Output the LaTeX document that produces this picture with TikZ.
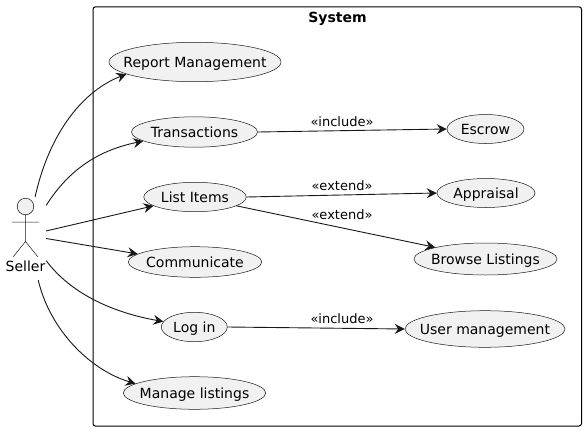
\documentclass[tikz,border=0pt]{standalone}
\usepackage{fontspec}
\setmainfont{DejaVu Sans}
\usetikzlibrary{arrows.meta,shapes.geometric}
\definecolor{ucfill}{HTML}{F1F1F1}
\definecolor{ucline}{HTML}{181818}
\newcommand{\uctext}[1]{\makebox[0pt]{\raisebox{0pt}[10.6pt][0pt]{#1}}}
\tikzset{
  usecase/.style={ellipse,draw=ucline,line width=0.5pt,fill=ucfill,inner sep=0pt,font=\fontsize{14}{16}\selectfont,text=black},
  link/.style={draw=ucline,line width=0.9pt,-{Stealth[length=10pt,width=10pt,inset=3.5pt]}},
  linklabel/.style={font=\fontsize{13}{15}\selectfont,text=black,inner sep=0pt},
  actorline/.style={draw=ucline,line width=0.5pt}
}
\begin{document}
\begin{tikzpicture}[x=1pt,y=-1pt]
\useasboundingbox (0,0) rectangle (586,431);
\fill[white] (0,0) rectangle (586,431);
\node[draw=black,line width=1pt,rounded corners=2.5pt,minimum width=488.5pt,minimum height=419.2pt,inner sep=0pt] (sys) at (337.25,216.4) {};
\node[font=\bfseries\fontsize{14}{16}\selectfont,inner sep=0pt,anchor=base] (systitle) at (337.5,22) {System};
% actor
\node[inner sep=0pt,minimum width=41pt,minimum height=83pt] (actor) at (25.5,238.5) {};
\draw[actorline,fill=ucfill] (25.5,206.5) circle (8.3pt);
\draw[actorline] (25.5,215) -- (25.5,241.5) (12,222) -- (39,222) (13,257) -- (25.5,241.5) -- (38,257);
\node[font=\fontsize{14}{16}\selectfont,inner sep=0pt] (seller) at (25.5,266) {Seller};
% use cases
\node[usecase,minimum width=172pt,minimum height=39.4pt] (rm) at (195,62) {\uctext{Report Management}};
\node[usecase,minimum width=126pt,minimum height=30.4pt] (tr) at (194.5,132) {\uctext{Transactions}};
\node[usecase,minimum width=102.5pt,minimum height=29.4pt] (li) at (195,197) {\uctext{List Items}};
\node[usecase,minimum width=133.4pt,minimum height=30.6pt] (co) at (195,262) {\uctext{Communicate}};
\node[usecase,minimum width=66pt,minimum height=29.4pt] (lo) at (194.3,327) {\uctext{Log in}};
\node[usecase,minimum width=142.4pt,minimum height=32.6pt] (ml) at (194.5,393) {\uctext{Manage listings}};
\node[usecase,minimum width=77pt,minimum height=29pt] (es) at (485.5,129) {\uctext{Escrow}};
\node[usecase,minimum width=98pt,minimum height=29pt] (ap) at (486,193) {\uctext{Appraisal}};
\node[usecase,minimum width=143pt,minimum height=32pt] (br) at (485.5,259) {\uctext{Browse Listings}};
\node[usecase,minimum width=160pt,minimum height=36.6pt] (um) at (485,329) {\uctext{User management}};
% links from actor
\draw[link] (actor.77) .. controls (50,130) and (85,90) .. (rm.190);
\draw[link] (actor.58) .. controls (70,168) and (100,150) .. (tr.190);
\draw[link] (actor.20) -- (li.192);
\draw[link] (actor.0) -- (co.172);
\draw[link] (actor.-47) .. controls (72,295) and (115,313) .. (lo.170);
\draw[link] (actor.-73) .. controls (50,330) and (90,370) .. (ml.171);
% includes
\draw[link] (tr.east) -- (es.west);
\draw[link] (li.east) -- (ap.west);
\draw[link] (li.348) -- (br.167);
\draw[link] (lo.east) -- (um.west);
\node[linklabel] (l1) at (342,122) {«include»};
\node[linklabel] (l2) at (342,186) {«extend»};
\node[linklabel] (l3) at (342,214.5) {«extend»};
\node[linklabel] (l4) at (342,319) {«include»};
\end{tikzpicture}
\end{document}
